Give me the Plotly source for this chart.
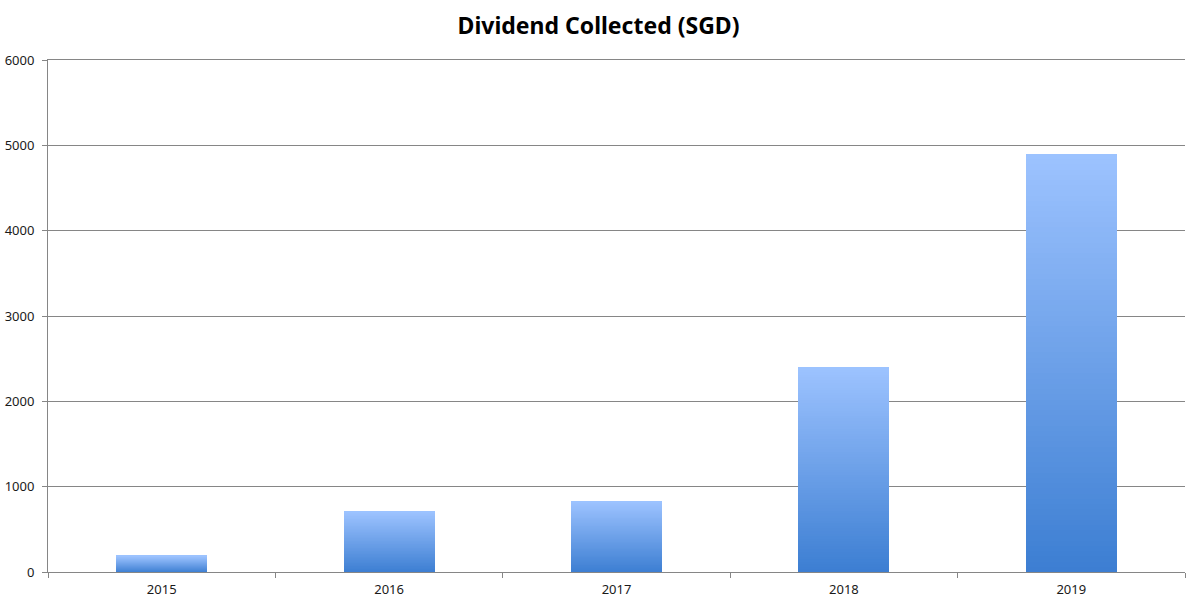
import plotly.graph_objects as go

years = ["2015", "2016", "2017", "2018", "2019"]
dividends = [190, 710, 830, 2400, 4900]
y_ticks = [0, 1000, 2000, 3000, 4000, 5000, 6000]

top_rgb = (157, 195, 255)
bottom_rgb = (60, 126, 210)
N = 80

fig = go.Figure()
for i in range(N):
    t = (i + 0.5) / N
    c = tuple(round(bottom_rgb[k] + (top_rgb[k] - bottom_rgb[k]) * t) for k in range(3))
    fig.add_trace(go.Bar(
        x=years,
        y=[v / N for v in dividends],
        marker=dict(color=f"rgb{c}", line=dict(width=0)),
        showlegend=False,
        hoverinfo="skip" if i else "x+text",
        text=[str(v) for v in dividends] if i == 0 else None,
        textposition="none",
    ))

grid = "#868686"
fig.update_layout(
    barmode="stack",
    bargap=0.6,
    width=1197, height=607,
    margin=dict(l=48, r=12, t=60, b=35, autoexpand=False),
    paper_bgcolor="white", plot_bgcolor="white",
    title=dict(text="<b>Dividend Collected (SGD)</b>", x=0.5, xanchor="center",
               y=0.957, yanchor="middle",
               font=dict(family="Noto Sans", size=23, color="black")),
    font=dict(family="Noto Sans", size=13, color="#1a1a1a"),
)
fig.update_xaxes(
    type="category", showline=True, linecolor=grid, linewidth=1, mirror=True,
    ticks="outside", tickson="boundaries", ticklen=5, tickcolor=grid,
    showgrid=False, tickfont=dict(size=13), automargin=False,
    ticklabelstandoff=5,
)
fig.update_yaxes(
    range=[0, 6000], tickvals=y_ticks, showgrid=True, gridcolor=grid, gridwidth=1,
    showline=True, linecolor=grid, linewidth=1, ticks="outside", ticklen=5,
    tickcolor=grid, zeroline=False, tickfont=dict(size=13), automargin=False,
    ticklabelstandoff=5,
)
fig.write_html(
    "out.html",
    config={"displayModeBar": False},
    post_script="document.body.style.margin='0';document.body.style.overflow='hidden';",
)
